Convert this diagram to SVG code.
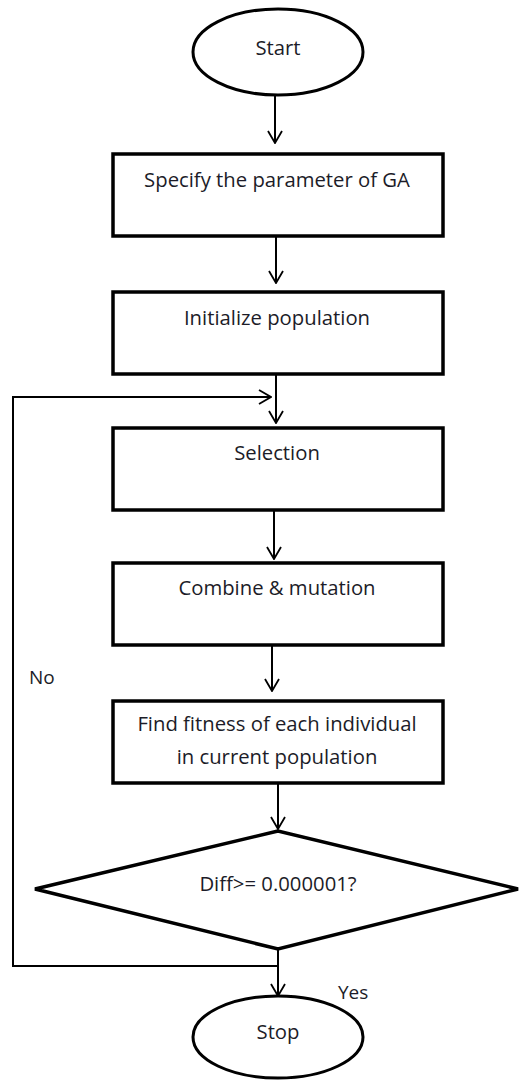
<svg xmlns="http://www.w3.org/2000/svg" width="520" height="1080" viewBox="0 0 520 1080">
<defs>
<marker id="arr" viewBox="0 0 14 16" refX="13" refY="8" markerWidth="14" markerHeight="16" markerUnits="userSpaceOnUse" orient="auto">
<path d="M1,1 L13,8 L1,15" fill="none" stroke="#000" stroke-width="1.8"/>
</marker>
<style>
.box{fill:#fff;stroke:#000;stroke-width:3.5}
.term{fill:#fff;stroke:#000;stroke-width:3}
.t{font-family:"Open Sans","Noto Sans",sans-serif;font-size:20.3px;fill:#1c1c28;text-anchor:middle}
.lbl{font-family:"Open Sans","Noto Sans",sans-serif;font-size:19px;fill:#1c1c28}
.c{fill:none;stroke:#000;stroke-width:2}
</style>
</defs>
<rect width="520" height="1080" fill="#fff"/>
<g id="connectors">
<path class="c" d="M275,95 L275,143" marker-end="url(#arr)"/>
<path class="c" d="M276,236 L276,283" marker-end="url(#arr)"/>
<path class="c" d="M276,374 L276,423" marker-end="url(#arr)"/>
<path class="c" d="M274,510 L274,559" marker-end="url(#arr)"/>
<path class="c" d="M272,645 L272,691" marker-end="url(#arr)"/>
<path class="c" d="M278,783 L278,829" marker-end="url(#arr)"/>
<path class="c" d="M278,949 L278,996" marker-end="url(#arr)"/>
<path class="c" d="M278,966 L13,966 L13,397 L271,397" marker-end="url(#arr)"/>
<text class="lbl" x="29" y="684">No</text>
<text class="lbl" x="338" y="999">Yes</text>
</g>
<g id="start">
<ellipse class="term" cx="278" cy="52" rx="85" ry="43"/>
<text class="t" x="278" y="55">Start</text>
</g>
<g id="specify">
<rect class="box" x="113" y="154" width="330" height="82"/>
<text class="t" x="277" y="187">Specify the parameter of GA</text>
</g>
<g id="initialize">
<rect class="box" x="113" y="292" width="330" height="82"/>
<text class="t" x="277" y="325">Initialize population</text>
</g>
<g id="selection">
<rect class="box" x="113" y="428" width="330" height="82"/>
<text class="t" x="277" y="460">Selection</text>
</g>
<g id="combine">
<rect class="box" x="113" y="563" width="330" height="82"/>
<text class="t" x="277" y="595">Combine &amp; mutation</text>
</g>
<g id="fitness">
<rect class="box" x="113" y="701" width="330" height="82"/>
<text class="t" x="277" y="731">Find fitness of each individual</text>
<text class="t" x="277" y="764">in current population</text>
</g>
<g id="decision">
<polygon class="box" points="278,831 35,889 278,949 518,889"/>
<text class="t" x="278" y="891">Diff&gt;= 0.000001?</text>
</g>
<g id="stop">
<ellipse class="term" cx="278" cy="1037" rx="85" ry="41"/>
<text class="t" x="278" y="1039">Stop</text>
</g>
</svg>
